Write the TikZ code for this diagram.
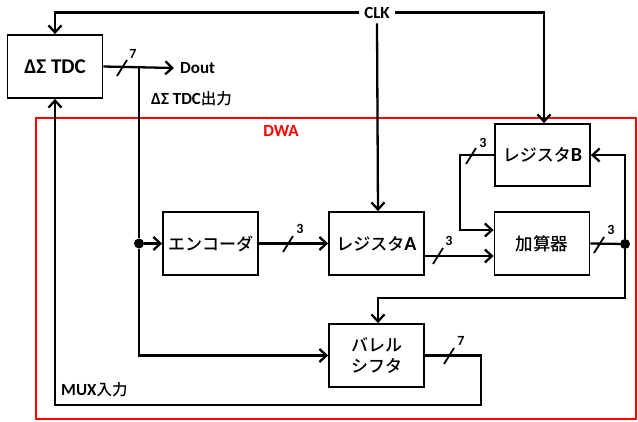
\documentclass[tikz,border=0pt]{standalone}
\usepackage{fontspec}
\setmainfont{Carlito}
\newfontfamily\cjk{Noto Sans CJK JP}[BoldFont={Noto Sans CJK JP Medium}]
\usetikzlibrary{arrows.meta,calc}
\begin{document}
\begin{tikzpicture}[x=1pt,y=-1pt,
  wire/.style={line width=2.3pt,line join=miter},
  arr/.style={wire,-{Straight Barb[length=7pt,width=13pt,line width=2.3pt]}},
  blk/.style={draw,line width=1.8pt,minimum width=95pt,minimum height=63pt,inner sep=0pt,font=\fontsize{20}{22}\selectfont\bfseries},
  dotn/.style={circle,fill,inner sep=0pt,minimum size=10pt},
  lab/.style={font=\fontsize{17}{18}\selectfont\bfseries,inner sep=1pt},
  small/.style={font=\fontsize{14}{15}\selectfont\bfseries,inner sep=0pt}]
\useasboundingbox (0,0) rectangle (638,421);
% DWA frame
\draw[red,line width=1.5pt] (36,118) rectangle (636,419);
\node[red,lab] (dwa) at (281,131) {DWA};
% blocks
\node[blk,font=\fontsize{21}{23}\selectfont\bfseries] (tdc) at (55,66.5) {ΔΣ TDC};
\node[blk] (enc) at (210.5,243.5) {{\cjk\fontsize{17}{19}\selectfont エンコーダ}};
\node[blk] (rega) at (376.5,243.5) {{\cjk\fontsize{17}{19}\selectfont レジスタ}A};
\node[blk] (add) at (542,243.5) {{\cjk\fontsize{17.5}{19}\selectfont 加算器}};
\node[blk,minimum height=62pt] (regb) at (542.5,155) {{\cjk\fontsize{17}{19}\selectfont レジスタ}B};
\node[blk,align=center,font=\cjk\fontsize{17}{20.5}\selectfont\bfseries] (bar) at (376.5,355.5) {バレル\\シフタ};
% texts
\node[lab] (clk) at (377,12.5) {CLK};
\node[lab,anchor=west] (dout) at (179,68) {Dout};
\node[lab,anchor=west] (tdco) at (150,99) {ΔΣ TDC{\cjk\fontsize{15.5}{17}\selectfont 出力}};
\node[lab,anchor=west] (mux) at (60,390) {MUX{\cjk\fontsize{15.5}{17}\selectfont 入力}};
% junctions
\node[dotn] (d1) at (139,243.5) {};
\node[dotn] (d2) at (625,244) {};
\coordinate (br) at (139,68);
\coordinate (rbk) at (460,155);
\coordinate (fb1) at (625,298);
\coordinate (so) at (481,355.5);
\coordinate (fb2) at (481,405);
\coordinate (fb3) at (55,405);
% clock
\draw[arr] ([xshift=-4pt]clk.west) -| (tdc.north);
\draw[arr] ([xshift=4pt]clk.east) -| ([xshift=1.5pt]regb.north);
\draw[arr] ([yshift=-4pt]clk.south) -- ([xshift=1.5pt]rega.north);
% TDC out
\draw[arr] (tdc.east) -- ([xshift=-5pt]dout.west);
\draw[wire] (br) -- (d1);
\draw[arr] (d1) |- (bar.west);
\draw[arr] (d1) -- (enc.west);
\draw[arr] (enc.east) -- (rega.west);
\draw[arr] ($(rega.east)+(0,12.5)$) -- ($(add.west)+(0,12.5)$);
\draw[wire] (add.east) -- (d2);
\draw[arr] (d2) |- (regb.east);
\draw[arr] (regb.west) -- (rbk) |- ($(add.west)+(0,-13.5)$);
\draw[arr] (d2) -- (fb1) -| ([xshift=1.5pt]bar.north);
\draw[arr] (bar.east) -- (so) -- (fb2) -- (fb3) -- (tdc.south);
% bus slashes
\foreach \x/\y/\lx/\ly/\t in {122/68/133/54/7, 288/244/300/229/3, 438/256/449/241/3, 599/245/611/230/3, 471/156/483/143/3, 449/356/461/341/7}{
  \draw[line width=1.8pt] (\x-5,\y+8) -- (\x+5,\y-8);
  \node[small] at (\lx,\ly) {\t};
}
\end{tikzpicture}
\end{document}
